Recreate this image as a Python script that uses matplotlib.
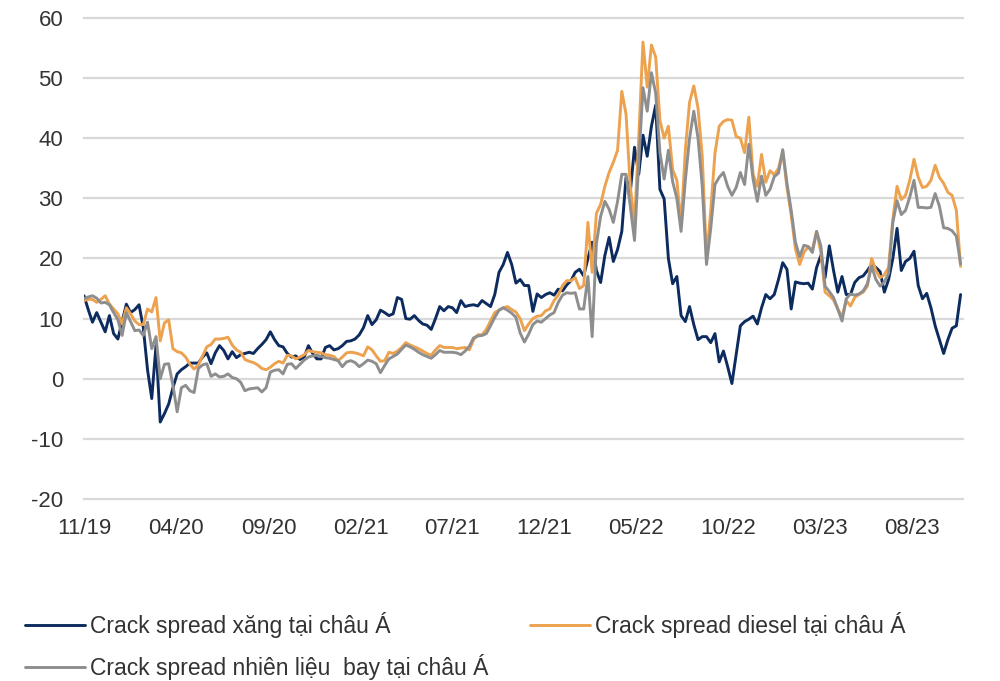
import pandas as pd
import matplotlib
matplotlib.use("Agg")
import matplotlib.pyplot as plt
import matplotlib.dates as mdates

# weekly crack spreads in Asia (USD/bbl), starting 11/2019
gasoline = [
    13.8, 11.5, 9.4, 11, 9.4, 7.8, 10.5, 7.5, 6.6, 9.5,
    12.4, 11, 11.5, 12.3, 8.5, 1.5, -3.3, 5.5, -7.2, -5.8,
    -4.2, -1.5, 0.8, 1.5, 2, 2.6, 2.6, 2.6, 3.6, 4.3,
    2.5, 4.3, 5.5, 4.7, 3.3, 4.5, 3.5, 4, 4.2, 4.4,
    4.2, 5, 5.7, 6.5, 7.8, 6.5, 5.5, 5.3, 4.2, 3.6,
    3.8, 3.2, 3.6, 5.5, 4.2, 3.3, 3.3, 5.2, 5.5, 4.8,
    5, 5.5, 6.2, 6.3, 6.6, 7.3, 8.5, 10.5, 9, 9.8,
    11.4, 11, 10.5, 10.8, 13.5, 13.2, 10, 9.9, 10.5, 9.7,
    9.1, 8.9, 8.2, 10, 12, 11.3, 12, 11.8, 11, 13,
    12, 12.2, 12.3, 12.1, 13, 12.5, 12, 14, 17.7, 19,
    21, 19, 15.9, 16.5, 15.5, 15.5, 11.2, 14.1, 13.5, 14,
    14.3, 13.9, 14.9, 14.6, 15.6, 16.3, 17.7, 18.2, 17.1, 20,
    22.7, 18, 16, 20.5, 23.5, 19.5, 21.5, 24.5, 33.5, 31,
    38.5, 34, 40.5, 37, 42, 45.5, 31.5, 29.9, 20, 15.8,
    17, 10.5, 9.5, 12, 9, 6.5, 7, 7, 6, 7.5,
    2.8, 4.6, 2, -0.8, 4, 8.8, 9.5, 9.9, 10.4, 9.1,
    11.8, 14, 13.3, 14, 16.5, 19.3, 18.2, 11.6, 16.1, 15.9,
    15.8, 15.9, 14.9, 18.5, 20.5, 16.8, 22.1, 18, 14.4, 17,
    14, 14, 16, 16.8, 17.1, 18, 19, 18.5, 17.8, 14.4,
    16.5, 20, 25, 18, 19.5, 20, 21.2, 15.5, 13.3, 14.2,
    11.8, 8.8, 6.5, 4.2, 6.5, 8.4, 8.8, 14,
]
diesel = [
    13, 13.2, 13.2, 12.7, 13.2, 13.8, 12.4, 11.6, 10.8, 9.1,
    11.8, 10.8, 9.6, 9, 9, 11.6, 11.1, 13.5, 6.3, 9.3,
    9.8, 5, 4.5, 4.3, 3.6, 2.4, 1.6, 2.3, 3.8, 5.3,
    5.7, 6.6, 6.6, 6.7, 6.9, 5.6, 4.8, 4.4, 3.2, 2.9,
    2.7, 2.3, 1.7, 1.5, 1.9, 2.5, 2.9, 2.6, 3.9, 3.8,
    3.3, 3.6, 4, 4.7, 4.5, 4.4, 4.3, 4, 3.9, 3.7,
    3, 3.6, 4.3, 4.4, 4.3, 4.1, 3.8, 5.3, 4.8, 3.8,
    2.9, 3, 4.4, 4.2, 4.6, 5.2, 6, 5.6, 5.3, 5,
    4.6, 4.2, 3.9, 4.8, 5.5, 5.2, 5.2, 5.2, 5, 5.1,
    5.2, 4.8, 6.5, 7.3, 7.3, 8.2, 9.6, 11, 11.4, 11.8,
    12, 11.5, 11.1, 10, 8, 9.1, 10, 10.4, 10.5, 11.3,
    11.6, 13, 13.9, 15.5, 16.3, 16.3, 16.8, 15, 15.5, 26,
    17.7, 27.5, 29, 32, 34.3, 36, 38, 47.8, 44, 32,
    26, 40, 56, 48.5, 55.5, 53.5, 43, 40, 42, 34.8,
    33, 25.5, 38, 46, 48.7, 45, 37, 20, 28, 37.5,
    42, 42.8, 43.1, 43, 40.3, 40, 37.6, 43.5, 34, 32,
    37.3, 32.7, 34.6, 33.9, 35, 37.8, 31.8, 27.2, 21.6, 19,
    21, 21.9, 21.5, 24.5, 21, 14.4, 13.8, 13.1, 11.6, 10.3,
    13, 12.1, 13.5, 14, 14.4, 15.4, 20, 18, 16.8, 17.3,
    18.5, 26.5, 32, 29.8, 30.5, 33, 36.5, 33.5, 31.8, 32,
    33, 35.5, 33.5, 32.5, 31, 30.5, 28, 18.7,
]
jet_fuel = [
    13.3, 13.6, 13.8, 13.4, 12.6, 12.7, 12.3, 11, 9.8, 7.2,
    11, 9.5, 8, 8.1, 7.2, 9.4, 5, 7, 0, 2.4,
    2.5, -1.1, -5.5, -1.5, -1.1, -2, -2.3, 1.7, 2.3, 2.5,
    0.4, 0.8, 0.3, 0.4, 0.8, 0.2, 0, -0.6, -2, -1.7,
    -1.6, -1.5, -2.2, -1.5, 1.1, 1.4, 1.5, 0.8, 2.4, 2.5,
    1.7, 2.4, 3.1, 3.6, 3.8, 3.9, 3.7, 3.5, 3.4, 3.2,
    3, 2, 2.8, 3, 2.7, 2, 2.5, 3.1, 2.9, 2.5,
    1, 2.2, 3.3, 3.7, 4.1, 4.9, 5.6, 5.3, 4.9, 4.4,
    4, 3.7, 3.4, 4, 4.7, 4.4, 4.4, 4.4, 4.3, 4,
    4.6, 5.4, 6.8, 7.1, 7.2, 7.5, 8.8, 10.2, 11.4, 11.8,
    11.4, 10.9, 10.2, 7.6, 6.1, 7.4, 9, 9.6, 9.4, 10,
    10.6, 11, 12.7, 13.9, 14.3, 14.2, 14.3, 11.6, 11.6, 17,
    7, 22.5, 27, 29.5, 28.2, 26, 29.5, 34, 34, 28.7,
    23, 36, 48.4, 44.5, 50.9, 47.5, 37.6, 33.2, 38, 32.8,
    30, 24.5, 33, 40, 44.5, 40, 32, 19, 25, 32.3,
    33.5, 34.3, 32, 30.5, 31.8, 34.3, 32.3, 39, 33.2, 29.5,
    33.7, 30.5, 31.5, 33.6, 34.2, 38.1, 32.5, 28, 22.7, 20.3,
    22.2, 22, 21, 24.5, 22.1, 15.4, 14.5, 13.5, 11.6, 9.6,
    13.3, 14.1, 13.9, 14.1, 14.6, 15.8, 18.7, 16.5, 15.4, 16.1,
    17.5, 26, 29.6, 27.3, 28, 30.2, 33, 28.5, 28.5, 28.4,
    28.5, 30.8, 28.7, 25.1, 25, 24.6, 23.7, 19.1,
]

series_labels = [
    "Crack spread xăng tại châu Á",
    "Crack spread diesel tại châu Á",
    "Crack spread nhiên liệu  bay tại châu Á",
]
series_colors = ["#0c2b5e", "#eca24e", "#8e8e8e"]
y_ticks = [-20, -10, 0, 10, 20, 30, 40, 50, 60]

dates = pd.date_range("2019-11-01", periods=len(gasoline), freq="7D")
tick_dates = pd.date_range("2019-11-01", "2023-08-01", freq="5MS")

plt.rcParams["font.family"] = ["Liberation Sans", "DejaVu Sans"]
plt.rcParams["axes.unicode_minus"] = False
text_color = "#333333"

fig = plt.figure(figsize=(10, 6.81), dpi=100)
ax = fig.add_axes([0.084, 0.2673, 0.879, 0.7063])

lines = []
for vals, lab, col in zip([gasoline, diesel, jet_fuel], series_labels, series_colors):
    ln, = ax.plot(dates, vals, color=col, lw=2.1, label=lab,
                  solid_joinstyle="round", solid_capstyle="round")
    lines.append(ln)

ax.set_ylim(-20, 60)
ax.set_yticks(y_ticks)
ax.set_xlim(pd.Timestamp("2019-11-01"), pd.Timestamp("2023-10-24"))
ax.set_xticks(tick_dates)
ax.xaxis.set_major_formatter(mdates.DateFormatter("%m/%y"))

ax.set_axisbelow(True)
ax.grid(axis="y", color="#d9d9d9", lw=1.6)
for gl in ax.get_ygridlines():
    gl.set_clip_on(False)
for s in ax.spines.values():
    s.set_visible(False)
ax.tick_params(axis="both", length=0, labelsize=16, colors=text_color)
ax.tick_params(axis="y", pad=15)
ax.tick_params(axis="x", pad=14)

# row-major order for the two-column legend
order = [0, 2, 1]
fig.legend([lines[i] for i in order], [series_labels[i] for i in order],
           loc="upper left", bbox_to_anchor=(0.025, 0.102), ncol=2,
           frameon=False, fontsize=16.5, handlelength=2.6, handletextpad=0.25,
           columnspacing=1.8, labelspacing=0.7, borderpad=0, borderaxespad=0,
           labelcolor=text_color)

fig.savefig("out.png", dpi=100)
